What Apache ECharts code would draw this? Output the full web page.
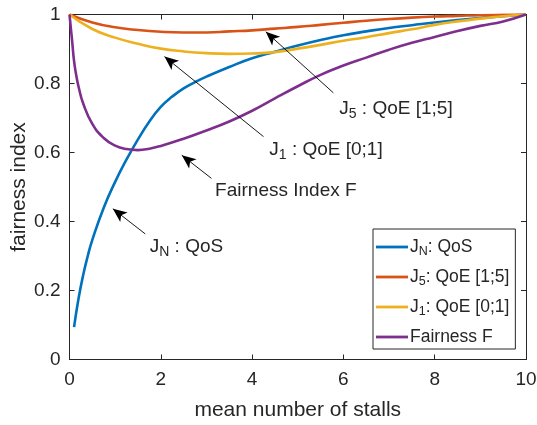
<!DOCTYPE html>
<html>
<head>
<meta charset="utf-8">
<script src="https://cdn.jsdelivr.net/npm/echarts@6/dist/echarts.min.js"></script>
<style>
  html, body { margin: 0; padding: 0; background: #fff; }
  #chart { width: 537px; height: 425px; }
</style>
</head>
<body>
<div id="chart"></div>
<script>
// mean number of stalls (x) for each curve
const xQoS  = [0.1, 0.2, 0.3, 0.4, 0.5, 0.75, 1, 1.25, 1.5, 1.75, 2, 2.25, 2.5, 2.75, 3, 3.5, 4, 4.5, 5, 5.5, 6, 6.5, 7, 7.5, 8, 8.5, 9, 9.5, 10];
const xQoE  = [0, 0.5, 1, 1.5, 2, 2.5, 3, 3.5, 4, 4.5, 5, 5.5, 6, 6.5, 7, 7.5, 8, 8.5, 9, 9.5, 10];
const xFair = [0, 0.03, 0.06, 0.1, 0.15, 0.2, 0.3, 0.5, 0.75, 1, 1.25, 1.5, 1.75, 2, 2.5, 3, 3.5, 4, 4.5, 5, 5.5, 6, 6.5, 7, 7.5, 8, 8.5, 9, 9.5, 10];

// fairness index values
const jQoS  = [0.094, 0.178, 0.245, 0.30, 0.347, 0.44, 0.515, 0.58, 0.638, 0.69, 0.732, 0.762, 0.786, 0.804, 0.82, 0.848, 0.873, 0.892, 0.910, 0.926, 0.940, 0.951, 0.961, 0.969, 0.977, 0.984, 0.990, 0.995, 1.0];
const jQoE5 = [1.0, 0.977, 0.963, 0.955, 0.950, 0.948, 0.948, 0.951, 0.954, 0.959, 0.964, 0.970, 0.976, 0.982, 0.987, 0.991, 0.994, 0.996, 0.998, 0.999, 1.0];
const jQoE1 = [1.0, 0.958, 0.933, 0.915, 0.901, 0.893, 0.888, 0.886, 0.887, 0.891, 0.901, 0.912, 0.924, 0.934, 0.946, 0.957, 0.970, 0.980, 0.988, 0.995, 1.0];
const fairF = [1.0, 0.96, 0.92, 0.865, 0.822, 0.79, 0.742, 0.683, 0.642, 0.62, 0.61, 0.607, 0.611, 0.619, 0.640, 0.664, 0.690, 0.721, 0.757, 0.792, 0.825, 0.852, 0.875, 0.898, 0.918, 0.935, 0.952, 0.967, 0.980, 1.0];

// axis ticks
const xTicks = [0, 2, 4, 6, 8, 10];
const yTicks = [0, 0.2, 0.4, 0.6, 0.8, 1];

// annotation arrows: [tail, head] in data units, and label anchors
const arrowQoS  = [[1.66, 0.364], [0.95, 0.437]];
const arrowFair = [[3.11, 0.525], [2.46, 0.592]];
const arrowQoE1 = [[4.25, 0.646], [2.08, 0.878]];
const arrowQoE5 = [[5.78, 0.773], [4.30, 0.950]];
const labelQoS  = [1.757, 0.326];
const labelFair = [3.19, 0.488];
const labelQoE1 = [4.377, 0.607];
const labelQoE5 = [5.91, 0.728];

const C = { qos: '#0072BD', q5: '#D95319', q1: '#EDB120', f: '#7E2F8E' };
const TXT = '#262626';
const FONT = '"Liberation Sans", Arial, Helvetica, sans-serif';

const pairs = (xs, ys) => xs.map((x, i) => [x, ys[i]]);

const subRich = {
  a: { fontSize: 19, fontFamily: FONT, color: TXT },
  s: { fontSize: 14, fontFamily: FONT, color: TXT, padding: [11, 0, 0, 0] }
};
const legendRich = {
  a: { fontSize: 17.5, fontFamily: FONT, color: TXT },
  s: { fontSize: 12.5, fontFamily: FONT, color: TXT, padding: [10, 0, 0, 0] }
};

function arrow(seg) {
  return {
    silent: true,
    symbol: ['none', 'arrow'],
    symbolSize: [9, 14],
    lineStyle: { color: '#000', width: 0.9, type: 'solid' },
    label: { show: false },
    emphasis: { disabled: true },
    animation: false,
    data: [[{ coord: seg[0] }, { coord: seg[1] }]]
  };
}

function note(pos, text) {
  return {
    silent: true,
    symbol: 'circle',
    symbolSize: 0,
    animation: false,
    label: {
      show: true, position: 'right', distance: 0,
      formatter: text, rich: subRich
    },
    data: [{ coord: pos }]
  };
}

function curve(name, data, color, extra) {
  return Object.assign({
    name, type: 'line', data,
    showSymbol: false, symbol: 'none',
    smooth: 0.5,
    lineStyle: { color, width: 2.6 },
    itemStyle: { color },
    emphasis: { disabled: true },
    xAxisIndex: 0, yAxisIndex: 0
  }, extra);
}

const axisText = { fontSize: 19, fontFamily: FONT, color: TXT };
const nameText = { fontSize: 21, fontFamily: FONT, color: TXT };

const chart = echarts.init(document.getElementById('chart'), null, { renderer: 'canvas' });

chart.setOption({
  animation: false,
  backgroundColor: '#fff',
  grid: { left: 69.5, right: 11, top: 14.5, bottom: 65.5, containLabel: false, outerBoundsMode: 'none' },
  xAxis: [
    {
      type: 'value', min: xTicks[0], max: xTicks[xTicks.length - 1], interval: 2,
      name: 'mean number of stalls', nameLocation: 'middle', nameGap: 40,
      nameTextStyle: nameText,
      axisLine: { show: true, lineStyle: { color: TXT, width: 1 } },
      axisTick: { show: true, inside: true, length: 5, lineStyle: { color: TXT } },
      axisLabel: Object.assign({ margin: 11, hideOverlap: false }, axisText),
      splitLine: { show: false }
    },
    {
      type: 'value', position: 'top', min: xTicks[0], max: xTicks[xTicks.length - 1], interval: 2,
      axisLine: { show: true, onZero: false, lineStyle: { color: TXT, width: 1 } },
      axisTick: { show: true, inside: true, length: 5, lineStyle: { color: TXT } },
      axisLabel: { show: false },
      splitLine: { show: false }
    }
  ],
  yAxis: [
    {
      type: 'value', min: yTicks[0], max: yTicks[yTicks.length - 1], interval: 0.2,
      name: 'fairness index', nameLocation: 'middle', nameGap: 40, nameMoveOverlap: false,
      nameTextStyle: nameText,
      axisLine: { show: true, lineStyle: { color: TXT, width: 1 } },
      axisTick: { show: true, inside: true, length: 5, lineStyle: { color: TXT } },
      axisLabel: Object.assign({ margin: 9 }, axisText),
      splitLine: { show: false }
    },
    {
      type: 'value', position: 'right', min: yTicks[0], max: yTicks[yTicks.length - 1], interval: 0.2,
      axisLine: { show: true, onZero: false, lineStyle: { color: TXT, width: 1 } },
      axisTick: { show: true, inside: true, length: 5, lineStyle: { color: TXT } },
      axisLabel: { show: false },
      splitLine: { show: false }
    }
  ],
  legend: {
    orient: 'vertical',
    left: 373, top: 229,
    padding: [9, 6, 3, 3],
    itemGap: 9.5,
    itemWidth: 32, itemHeight: 2.8,
    icon: 'rect',
    backgroundColor: '#fff',
    borderColor: TXT, borderWidth: 1, borderRadius: 0,
    data: ['J_N', 'J_5', 'J_1', 'F'],
    formatter: function (n) {
      if (n === 'J_N') return '{a|J}{s|N}{a|: QoS}';
      if (n === 'J_5') return '{a|J}{s|5}{a|: QoE [1;5]}';
      if (n === 'J_1') return '{a|J}{s|1}{a|: QoE [0;1]}';
      return '{a|Fairness F}';
    },
    textStyle: { fontSize: 17.5, fontFamily: FONT, color: TXT, padding: [0, 0, 0, -3], rich: legendRich },
    selectedMode: false
  },
  series: [
    curve('J_N', pairs(xQoS, jQoS), C.qos, {
      markLine: arrow(arrowQoS),
      markPoint: note(labelQoS, '{a|J}{s|N}{a| : QoS}')
    }),
    curve('J_5', pairs(xQoE, jQoE5), C.q5, {
      markLine: arrow(arrowQoE5),
      markPoint: note(labelQoE5, '{a|J}{s|5}{a| : QoE [1;5]}')
    }),
    curve('J_1', pairs(xQoE, jQoE1), C.q1, {
      markLine: arrow(arrowQoE1),
      markPoint: note(labelQoE1, '{a|J}{s|1}{a| : QoE [0;1]}')
    }),
    curve('F', pairs(xFair, fairF), C.f, {
      markLine: arrow(arrowFair),
      markPoint: note(labelFair, '{a|Fairness Index F}')
    })
  ]
});
</script>
</body>
</html>
